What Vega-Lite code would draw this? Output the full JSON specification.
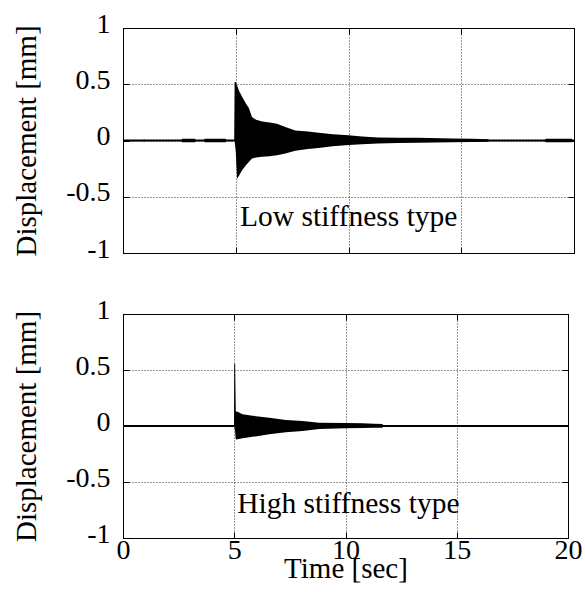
{
  "$schema": "https://vega.github.io/schema/vega-lite/v6.json",
  "padding": {"left": 12, "top": 9, "right": 0, "bottom": 0},
  "background": "white",
  "spacing": 61,
  "bounds": "flush",
  "datasets": {
    "low": [
      {"t": 0, "hi": 0, "lo": 0},
      {"t": 0.92, "hi": 0, "lo": 0},
      {"t": 0.93, "hi": 0.02, "lo": -0.02},
      {"t": 0.95, "hi": 0, "lo": 0},
      {"t": 2.6, "hi": 0, "lo": 0},
      {"t": 2.62, "hi": 0.015, "lo": -0.015},
      {"t": 3.2, "hi": 0.015, "lo": -0.015},
      {"t": 3.22, "hi": 0, "lo": 0},
      {"t": 3.6, "hi": 0, "lo": 0},
      {"t": 3.62, "hi": 0.015, "lo": -0.015},
      {"t": 4.55, "hi": 0.015, "lo": -0.015},
      {"t": 4.57, "hi": 0, "lo": 0},
      {"t": 4.93, "hi": 0, "lo": 0},
      {"t": 4.95, "hi": 0.52, "lo": 0},
      {"t": 5.0, "hi": 0.52, "lo": -0.1},
      {"t": 5.06, "hi": 0.49, "lo": -0.34},
      {"t": 5.15, "hi": 0.44, "lo": -0.31},
      {"t": 5.28, "hi": 0.39, "lo": -0.265},
      {"t": 5.45, "hi": 0.33, "lo": -0.22},
      {"t": 5.58, "hi": 0.29, "lo": -0.19},
      {"t": 5.72, "hi": 0.21, "lo": -0.16},
      {"t": 5.9, "hi": 0.185, "lo": -0.15},
      {"t": 6.17, "hi": 0.17, "lo": -0.145},
      {"t": 6.5, "hi": 0.16, "lo": -0.14},
      {"t": 6.83, "hi": 0.15, "lo": -0.13},
      {"t": 7.2, "hi": 0.12, "lo": -0.116},
      {"t": 7.64, "hi": 0.09, "lo": -0.09},
      {"t": 8.2, "hi": 0.08, "lo": -0.075},
      {"t": 8.67, "hi": 0.07, "lo": -0.066},
      {"t": 9.3, "hi": 0.055, "lo": -0.05},
      {"t": 10.0, "hi": 0.047, "lo": -0.04},
      {"t": 10.6, "hi": 0.035, "lo": -0.033},
      {"t": 11.3, "hi": 0.027, "lo": -0.027},
      {"t": 12.2, "hi": 0.025, "lo": -0.022},
      {"t": 13.1, "hi": 0.024, "lo": -0.02},
      {"t": 14.6, "hi": 0.018, "lo": -0.015},
      {"t": 15.5, "hi": 0.015, "lo": -0.013},
      {"t": 16.2, "hi": 0.012, "lo": -0.012},
      {"t": 16.25, "hi": 0, "lo": 0},
      {"t": 18.7, "hi": 0, "lo": 0},
      {"t": 18.75, "hi": 0.015, "lo": -0.015},
      {"t": 19.9, "hi": 0.015, "lo": -0.015},
      {"t": 19.95, "hi": 0, "lo": 0},
      {"t": 20, "hi": 0, "lo": 0}
    ],
    "high": [
      {"t": 0, "hi": 0, "lo": 0},
      {"t": 4.99, "hi": 0, "lo": 0},
      {"t": 5.0, "hi": 0.556, "lo": 0},
      {"t": 5.04, "hi": 0.556, "lo": -0.05},
      {"t": 5.07, "hi": 0.13, "lo": -0.12},
      {"t": 5.15, "hi": 0.128, "lo": -0.118},
      {"t": 5.37, "hi": 0.104, "lo": -0.11},
      {"t": 5.82, "hi": 0.092, "lo": -0.097},
      {"t": 6.57, "hi": 0.074, "lo": -0.074},
      {"t": 7.32, "hi": 0.053, "lo": -0.056},
      {"t": 8.07, "hi": 0.044, "lo": -0.044},
      {"t": 8.82, "hi": 0.03, "lo": -0.027},
      {"t": 10.0, "hi": 0.027, "lo": -0.02},
      {"t": 10.76, "hi": 0.024, "lo": -0.018},
      {"t": 11.3, "hi": 0.02, "lo": -0.016},
      {"t": 11.66, "hi": 0.018, "lo": -0.015},
      {"t": 11.7, "hi": 0, "lo": 0},
      {"t": 20, "hi": 0, "lo": 0}
    ],
    "labels": [
      {"panel": "low", "x": 5.19, "y": -0.76, "label": "Low stiffness type"},
      {"panel": "high", "x": 5.13, "y": -0.78, "label": "High stiffness type"}
    ]
  },
  "vconcat": [
    {
      "width": 451,
      "height": 225,
      "resolve": {"axis": {"x": "independent", "y": "independent"}},
      "layer": [
        {
          "data": {"name": "low"},
          "mark": {"type": "area", "color": "black", "opacity": 1},
          "encoding": {
            "x": {"field": "t", "type": "quantitative", "scale": {"domain": [0, 20], "nice": false, "zero": false},
                  "axis": {"labels": false, "title": null, "values": [0, 5, 10, 15, 20]}},
            "y": {"field": "hi", "type": "quantitative", "scale": {"domain": [-1, 1], "nice": false},
                  "axis": {"title": "Displacement [mm]", "values": [-1, -0.5, 0, 0.5, 1]}},
            "y2": {"field": "lo"}
          }
        },
        {
          "data": {"values": [{}]},
          "mark": {"type": "rule", "color": "black", "strokeWidth": 2},
          "encoding": {
            "y": {"datum": 0, "type": "quantitative",
                  "axis": {"orient": "right", "labels": false, "title": null, "grid": false, "domain": false, "values": [-1, -0.5, 0, 0.5, 1]}}
          }
        },
        {
          "data": {"name": "labels"},
          "transform": [{"filter": "datum.panel == 'low'"}],
          "mark": {"type": "text", "align": "left", "baseline": "alphabetic", "fontSize": 29.5, "font": "Liberation Serif", "color": "black"},
          "encoding": {
            "x": {"field": "x", "type": "quantitative",
                  "axis": {"orient": "top", "labels": false, "title": null, "grid": false, "domain": false, "values": [0, 5, 10, 15, 20]}},
            "y": {"field": "y", "type": "quantitative", "axis": null},
            "text": {"field": "label"}
          }
        }
      ]
    },
    {
      "width": 445,
      "height": 224,
      "resolve": {"axis": {"x": "independent", "y": "independent"}},
      "layer": [
        {
          "data": {"name": "high"},
          "mark": {"type": "area", "color": "black", "opacity": 1},
          "encoding": {
            "x": {"field": "t", "type": "quantitative", "scale": {"domain": [0, 20], "nice": false, "zero": false},
                  "axis": {"title": "Time [sec]", "values": [0, 5, 10, 15, 20]}},
            "y": {"field": "hi", "type": "quantitative", "scale": {"domain": [-1, 1], "nice": false},
                  "axis": {"title": "Displacement [mm]", "values": [-1, -0.5, 0, 0.5, 1]}},
            "y2": {"field": "lo"}
          }
        },
        {
          "data": {"values": [{}]},
          "mark": {"type": "rule", "color": "black", "strokeWidth": 2},
          "encoding": {
            "y": {"datum": 0, "type": "quantitative",
                  "axis": {"orient": "right", "labels": false, "title": null, "grid": false, "domain": false, "values": [-1, -0.5, 0, 0.5, 1]}}
          }
        },
        {
          "data": {"name": "labels"},
          "transform": [{"filter": "datum.panel == 'high'"}],
          "mark": {"type": "text", "align": "left", "baseline": "alphabetic", "fontSize": 29.5, "font": "Liberation Serif", "color": "black"},
          "encoding": {
            "x": {"field": "x", "type": "quantitative",
                  "axis": {"orient": "top", "labels": false, "title": null, "grid": false, "domain": false, "values": [0, 5, 10, 15, 20]}},
            "y": {"field": "y", "type": "quantitative", "axis": null},
            "text": {"field": "label"}
          }
        }
      ]
    }
  ],
  "config": {
    "font": "Liberation Serif",
    "view": {"stroke": "black", "strokeWidth": 1},
    "axis": {
      "labelFont": "Liberation Serif",
      "labelFontSize": 28,
      "labelColor": "black",
      "labelFlush": false,
      "labelOverlap": false,
      "titleFont": "Liberation Serif",
      "titleFontSize": 29,
      "titleFontWeight": "normal",
      "titleColor": "black",
      "domainColor": "black",
      "tickColor": "black",
      "tickSize": -6,
      "gridColor": "black",
      "gridDash": [1, 2],
      "gridOpacity": 0.8,
      "gridWidth": 1
    },
    "axisY": {
      "labelPadding": 19,
      "labelBaseline": "alphabetic",
      "labelOffset": 4,
      "titlePadding": 24,
      "labelExpr": "datum.value == 0 ? '0' : (datum.value < 0 ? '-' : '') + toString(abs(datum.value))"
    },
    "axisX": {
      "labelPadding": 4,
      "titlePadding": -10,
      "labelExpr": "toString(datum.value)"
    }
  }
}
